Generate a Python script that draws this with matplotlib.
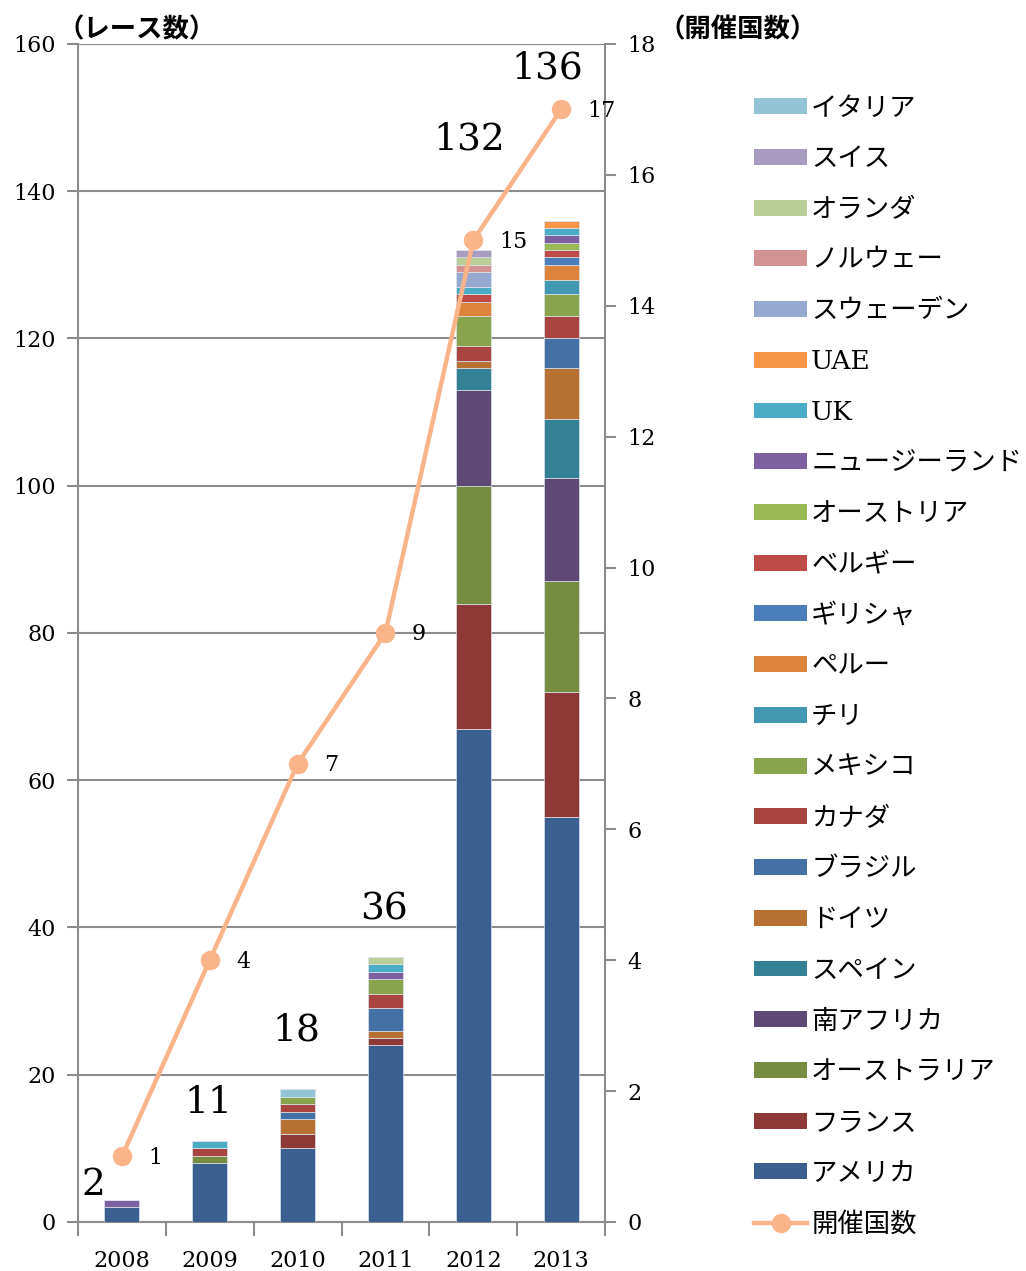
import numpy as np
import matplotlib.pyplot as plt
from matplotlib.lines import Line2D
from matplotlib.patches import Patch

plt.rcParams['font.family'] = ['DejaVu Serif', 'Noto Sans CJK JP']

years = ['2008', '2009', '2010', '2011', '2012', '2013']

# レース数（国別、下から積み上げ順）
countries = ['アメリカ', 'フランス', 'オーストラリア', '南アフリカ', 'スペイン', 'ドイツ',
             'ブラジル', 'カナダ', 'メキシコ', 'チリ', 'ペルー', 'ギリシャ', 'ベルギー',
             'オーストリア', 'ニュージーランド', 'UK', 'UAE', 'スウェーデン', 'ノルウェー',
             'オランダ', 'スイス', 'イタリア']
races = [
    [2, 8, 10, 24, 67, 55],
    [0, 0, 2, 1, 17, 17],
    [0, 1, 0, 0, 16, 15],
    [0, 0, 0, 0, 13, 14],
    [0, 0, 0, 0, 3, 8],
    [0, 0, 2, 1, 1, 7],
    [0, 0, 1, 3, 0, 4],
    [0, 1, 1, 2, 2, 3],
    [0, 0, 1, 2, 4, 3],
    [0, 0, 0, 0, 0, 2],
    [0, 0, 0, 0, 2, 2],
    [0, 0, 0, 0, 0, 1],
    [0, 0, 0, 0, 1, 1],
    [0, 0, 0, 0, 0, 1],
    [1, 0, 0, 1, 0, 1],
    [0, 1, 0, 1, 1, 1],
    [0, 0, 0, 0, 0, 1],
    [0, 0, 0, 0, 2, 0],
    [0, 0, 0, 0, 1, 0],
    [0, 0, 0, 1, 1, 0],
    [0, 0, 0, 0, 1, 0],
    [0, 0, 1, 0, 0, 0],
]
colors = ['#3B5F8E', '#8E3936', '#768C41', '#5E4975', '#348196', '#B77132',
          '#4470A6', '#A84541', '#88A44D', '#4298B0', '#DC843C', '#4A7EBB',
          '#BE4B48', '#98B954', '#7D60A0', '#4BACC6', '#F79646', '#95A9D1',
          '#D39392', '#B9CD96', '#A89BC0', '#92C4D6']

race_totals = [2, 11, 18, 36, 132, 136]
n_countries = [1, 4, 7, 9, 15, 17]

# 合計ラベルの位置（左軸の値、x方向のずれ）
total_y = [5, 16.2, 26, 42.4, 147, 156.7]
total_dx = [-0.32, -0.02, -0.01, -0.02, -0.05, -0.16]

line_color = '#F9B48A'
grid_color = '#8C8C8C'

fig = plt.figure(figsize=(10.26, 12.71), dpi=100)
ax = fig.add_axes([0.076, 0.0386, 0.5137, 0.9268])
ax2 = ax.twinx()

x = np.arange(len(years))
bottom = np.zeros(len(years))
for name, vals, c in zip(countries, races, colors):
    vals = np.array(vals, dtype=float)
    ax.bar(x, vals, 0.4, bottom=bottom, color=c, edgecolor='#DDE3EA',
           linewidth=0.5, zorder=3)
    bottom += vals

ax.set_xlim(-0.5, len(years) - 0.5)
ax.set_ylim(0, 160)
ax.set_yticks(np.arange(0, 161, 20))
ax.grid(axis='y', color=grid_color, linewidth=1.5, zorder=0)
ax.set_axisbelow(True)
ax.set_xticks(x)
ax.set_xticklabels(years, fontsize=16)
ax.set_xticks(np.arange(-0.5, len(years), 1), minor=True)
ax.tick_params(axis='x', which='major', length=0, pad=20)
ax.tick_params(axis='x', which='minor', length=10, width=1.5, color=grid_color)
ax.tick_params(axis='y', labelsize=16, length=8, width=1.5, color=grid_color, pad=8)
for s in ['top', 'right']:
    ax.spines[s].set_visible(False)
for s in ['left', 'bottom']:
    ax.spines[s].set_color(grid_color)
    ax.spines[s].set_linewidth(1.5)

for i, t in enumerate(race_totals):
    ax.text(i + total_dx[i], total_y[i], str(t), fontsize=27,
            ha='center', va='center', zorder=5)

ax2.plot(x, n_countries, color=line_color, linewidth=3.2, marker='o',
         markersize=13, zorder=4)
for i, v in enumerate(n_countries):
    ax2.annotate(str(v), (i, v), xytext=(19, -1), textcoords='offset points',
                 fontsize=16, va='center', ha='left')
ax2.set_ylim(0, 18)
ax2.set_yticks(np.arange(0, 19, 2))
ax2.tick_params(axis='y', labelsize=16, length=8, width=1.5, color=grid_color, pad=8)
for s in ['top', 'left', 'bottom']:
    ax2.spines[s].set_visible(False)
ax2.spines['right'].set_color(grid_color)
ax2.spines['right'].set_linewidth(1.5)

fig.text(0.056, 0.977, '（レース数）', fontsize=19, fontweight='bold',
         ha='left', va='center')
fig.text(0.642, 0.977, '（開催国数）', fontsize=19, fontweight='bold',
         ha='left', va='center')

handles = [Patch(facecolor=c, label=n) for n, c in zip(countries, colors)][::-1]
handles.append(Line2D([], [], color=line_color, linewidth=3.2, marker='o',
                      markersize=13, label='開催国数'))
fig.legend(handles=handles, loc='upper left', bbox_to_anchor=(0.725, 0.9332),
           frameon=False, fontsize=19, handlelength=2.0, handleheight=0.55,
           labelspacing=0.975, handletextpad=0.15, borderaxespad=0)

fig.savefig('out.png', dpi=100)
